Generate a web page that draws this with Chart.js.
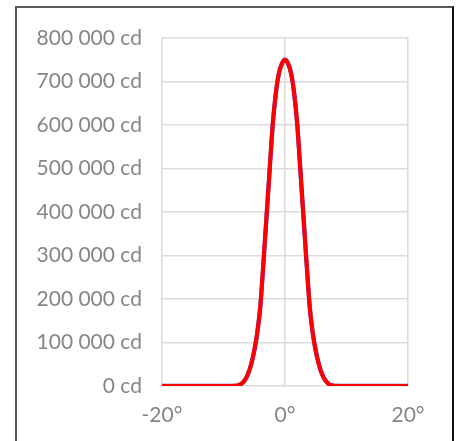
<!DOCTYPE html>
<html>
<head>
<meta charset="utf-8">
<script src="https://cdn.jsdelivr.net/npm/chart.js@4"></script>
<style>
  html, body { margin: 0; padding: 0; background: #fff; overflow: hidden; }
  #wrap { position: relative; width: 456px; height: 441px; }
  #frame {
    position: absolute; left: 15px; top: 6px; width: 435px; height: 460px;
    border-left: 2px solid #595959; border-top: 2px solid #595959; border-right: 2px solid #111;
  }
  #myChart { position: absolute; left: 0; top: 0; }
</style>
</head>
<body>
<div id="wrap">
  <div id="frame"></div>
  <canvas id="myChart" width="456" height="441"></canvas>
</div>
<script>
// beam profile: angle (deg) vs luminous intensity (cd)
const angles = [-20, -10, -8, -7.5, -7, -6.5, -6, -5.5, -5, -4.5, -4, -3.5, -3, -2.5, -2, -1.5, -1, -0.5,
  0, 0.5, 1, 1.5, 2, 2.5, 3, 3.5, 4, 4.5, 5, 5.5, 6, 6.5, 7, 7.5, 8, 10, 20];
const intensity = [0, 0, 500, 2000, 6000, 14000, 28000, 50000, 81000, 123000, 185000, 285000, 390000, 496000, 600000, 672000, 718000, 741000,
  750000, 741000, 718000, 672000, 600000, 496000, 390000, 285000, 185000, 123000, 81000, 50000, 28000, 14000, 6000, 2000, 500, 0, 0];

const xTicks = [-20, 0, 20];
const yMax = 800000;
const yStep = 100000;

const points = angles.map((a, i) => ({ x: a, y: intensity[i] }));

function withSpaces(v) {
  return String(v).replace(/\B(?=(\d{3})+(?!\d))/g, ' ');
}

const ctx = document.getElementById('myChart').getContext('2d');
new Chart(ctx, {
  type: 'line',
  data: {
    datasets: [{
      data: points,
      borderColor: '#FF0000',
      borderWidth: 4,
      pointRadius: 0,
      cubicInterpolationMode: 'monotone',
      order: 0
    }, {
      data: points,
      borderColor: '#5B3FC4',
      borderWidth: 4.3,
      pointRadius: 0,
      cubicInterpolationMode: 'monotone',
      order: 1
    }]
  },
  options: {
    responsive: false,
    animation: false,
    layout: { padding: { left: 0, right: 48, top: 38, bottom: 0 } },
    plugins: {
      legend: { display: false },
      title: { display: false },
      tooltip: { enabled: false }
    },
    scales: {
      x: {
        type: 'linear',
        min: xTicks[0],
        max: xTicks[xTicks.length - 1],
        afterBuildTicks: (scale) => { scale.ticks = xTicks.map(v => ({ value: v })); },
        border: { display: false },
        grid: { color: '#dcdcdc', lineWidth: 1.6, drawTicks: false },
        ticks: {
          padding: 17,
          color: '#868686',
          font: { family: 'Lato', size: 21 },
          maxRotation: 0,
          callback: (v) => v + '°'
        },
        afterFit: (scale) => { scale.height = 55; }
      },
      y: {
        min: 0,
        max: yMax,
        border: { display: false },
        grid: { color: '#dcdcdc', lineWidth: 1.6, drawTicks: false },
        ticks: {
          stepSize: yStep,
          padding: 20,
          color: '#868686',
          font: { family: 'Lato', size: 21 },
          callback: (v) => withSpaces(v) + ' cd'
        },
        afterFit: (scale) => { scale.width = 162; }
      }
    }
  }
});
</script>
</body>
</html>
